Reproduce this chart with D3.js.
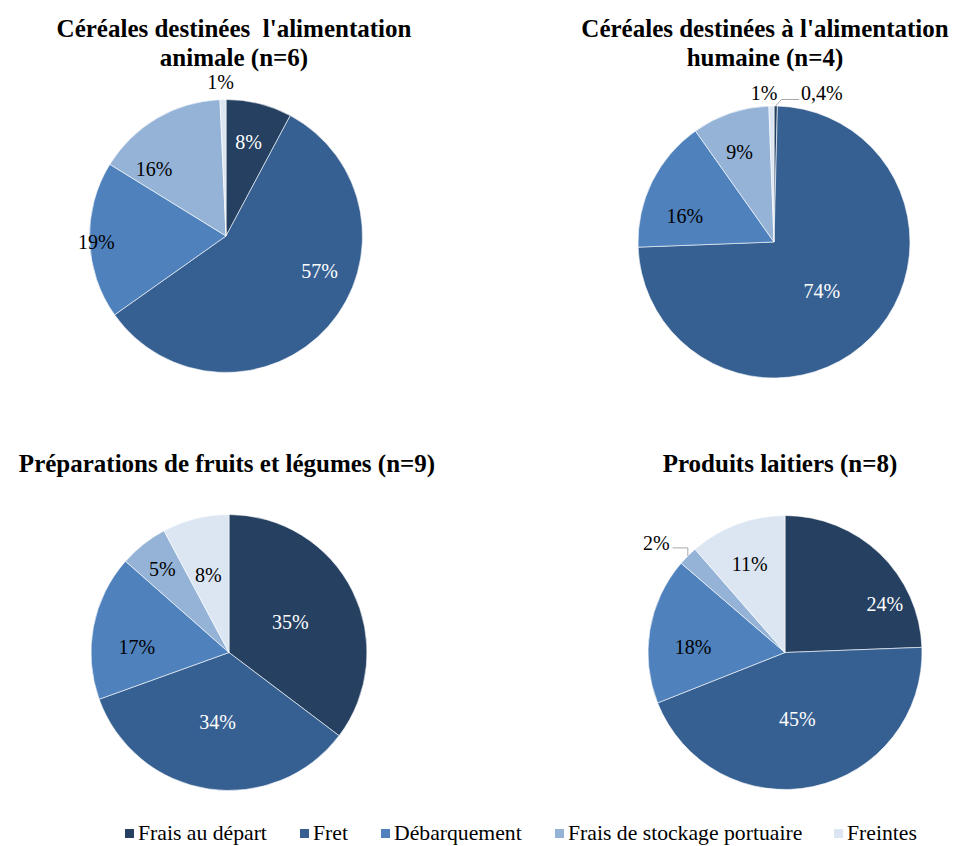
<!DOCTYPE html>
<html>
<head>
<meta charset="utf-8">
<script src="https://cdn.jsdelivr.net/npm/d3@7"></script>
<style>
  html, body { margin: 0; padding: 0; background: #fff; }
</style>
</head>
<body>
<svg id="chart" width="954" height="846" font-family="'Liberation Serif', Tinos, 'Times New Roman', Times, 'DejaVu Serif', serif" style="font-family: 'Liberation Serif', Tinos, 'Times New Roman', Times, 'DejaVu Serif', serif;"></svg>
<script>
// ---------- DATA ----------
const categories = ["Frais au départ", "Fret", "Débarquement", "Frais de stockage portuaire", "Freintes"];

const titleAnimale  = ["Céréales destinées  l'alimentation", "animale (n=6)"];
const titleHumaine  = ["Céréales destinées à l'alimentation", "humaine (n=4)"];
const titleFruits   = ["Préparations de fruits et légumes (n=9)"];
const titleLaitiers = ["Produits laitiers (n=8)"];

const valuesAnimale  = [7.8, 57.4, 18.6, 15.5, 0.7];
const valuesHumaine  = [0.4, 74.0, 15.8, 9.2, 0.6];
const valuesFruits   = [35.3, 34.2, 17.0, 5.7, 7.8];
const valuesLaitiers = [24.4, 44.6, 17.3, 2.3, 11.4];

const labelsAnimale  = ["8%", "57%", "19%", "16%", "1%"];
const labelsHumaine  = ["0,4%", "74%", "16%", "9%", "1%"];
const labelsFruits   = ["35%", "34%", "17%", "5%", "8%"];
const labelsLaitiers = ["24%", "45%", "18%", "2%", "11%"];

// ---------- STYLE / LAYOUT ----------
const colors = ["#254061", "#376092", "#4F81BD", "#95B3D7", "#DCE6F2"];
const labelColors = ["#ffffff", "#ffffff", "#000000", "#000000", "#000000"];

const pies = [
  { title: titleAnimale, values: valuesAnimale, labels: labelsAnimale,
    cx: 226, cy: 236, r: 136.5, titleX: 234, titleY: 37,
    outside: [false, false, false, false, true],
    nudge: [[1,-8],[27,-23],[-41,3],[-27,10],[-2,2]], leaders: [] },
  { title: titleHumaine, values: valuesHumaine, labels: labelsHumaine,
    cx: 774, cy: 242, r: 136, titleX: 765, titleY: 37,
    outside: [true, false, false, false, true],
    nudge: [[46,6],[-15,-13],[-10,13],[-6,-6],[-7,6]],
    leaders: [{ i: 0, side: 1, elbowDx: 5.7, lineDy: 6.5 }] },
  { title: titleFruits, values: valuesFruits, labels: labelsFruits,
    cx: 229, cy: 652.5, r: 138, titleX: 227, titleY: 472,
    outside: [false, false, false, false, false],
    nudge: [[-19,10],[2,-19],[-4,11],[-11,-13],[1,10]], leaders: [] },
  { title: titleLaitiers, values: valuesLaitiers, labels: labelsLaitiers,
    cx: 785, cy: 652.5, r: 137, titleX: 780, titleY: 472,
    outside: [false, false, false, true, false],
    nudge: [[38,16],[-6,-20],[-4,9],[-18,1],[-4,-5]],
    leaders: [{ i: 3, side: -1, elbowDx: 0, lineDy: 4.5 }] }
];

const svg = d3.select("#chart");
const pieGen = d3.pie().sort(null).value(d => d).startAngle(0).endAngle(2 * Math.PI);

pies.forEach(p => {
  const g = svg.append("g");
  const arcs = pieGen(p.values);
  const arc = d3.arc().innerRadius(0).outerRadius(p.r);
  const inArc = d3.arc().innerRadius(p.r * 0.65).outerRadius(p.r * 0.65);
  const outArc = d3.arc().innerRadius(p.r * 1.14).outerRadius(p.r * 1.14);
  const edgeArc = d3.arc().innerRadius(p.r).outerRadius(p.r);

  // title
  const t = g.append("text")
    .attr("x", p.titleX).attr("y", p.titleY)
    .attr("text-anchor", "middle")
    .style("white-space", "pre")
    .attr("font-size", 25).attr("font-weight", "bold").attr("fill", "#000");
  p.title.forEach((line, i) => {
    t.append("tspan").attr("x", p.titleX).attr("dy", i === 0 ? 0 : 28.5).text(line);
  });

  // slices
  const pg = g.append("g").attr("transform", `translate(${p.cx},${p.cy})`);
  pg.selectAll("path").data(arcs).join("path")
    .attr("d", arc)
    .attr("fill", (d, i) => colors[i])
    .attr("stroke", "#ffffff").attr("stroke-width", 0.6);

  // labels
  const pos = arcs.map((d, i) => {
    const c = (p.outside[i] ? outArc : inArc).centroid(d);
    return [c[0] + p.nudge[i][0], c[1] + p.nudge[i][1]];
  });
  pg.selectAll("text.lbl").data(arcs).join("text")
    .attr("class", "lbl")
    .attr("x", (d, i) => pos[i][0])
    .attr("y", (d, i) => pos[i][1])
    .attr("dy", "0.34em")
    .attr("text-anchor", "middle")
    .attr("font-size", 20)
    .attr("fill", (d, i) => p.outside[i] ? "#000" : labelColors[i])
    .text((d, i) => p.labels[i]);

  // leader lines
  pg.selectAll("text.lbl").each(function (d, i) {
    const L = p.leaders.find(l => l.i === i);
    if (!L) return;
    const bb = this.getBBox();
    const start = edgeArc.centroid(arcs[i]);
    const ly = pos[i][1] + L.lineDy;
    const endX = L.side > 0 ? bb.x - 2 : bb.x + bb.width + 3;
    const elbow = [start[0] + L.elbowDx, ly];
    pg.append("polyline")
      .attr("points", [start, elbow, [endX, ly]].map(q => q.join(",")).join(" "))
      .attr("fill", "none").attr("stroke", "#a6a6a6").attr("stroke-width", 1);
  });
});

// legend
const legendX = [125, 300, 381, 555, 834];
const lg = svg.append("g");
categories.forEach((c, i) => {
  lg.append("rect").attr("x", legendX[i]).attr("y", 829).attr("width", 9).attr("height", 9)
    .attr("fill", colors[i]);
  lg.append("text").attr("x", legendX[i] + 13).attr("y", 840)
    .attr("font-size", 21.7).attr("fill", "#000").text(c);
});
</script>
</body>
</html>
